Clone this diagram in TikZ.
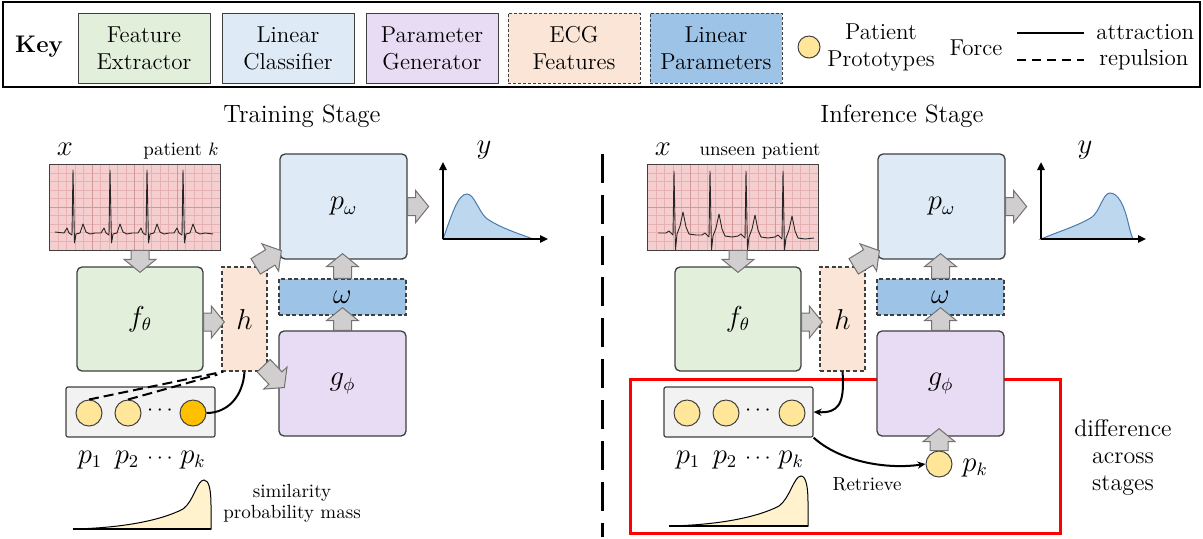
\documentclass[tikz,border=0pt]{standalone}
\usepackage{xcolor}
\usepackage{tikz}
\usetikzlibrary{arrows.meta,calc,positioning}
\definecolor{feCol}{HTML}{E2EFDA}
\definecolor{lcCol}{HTML}{DEEBF7}
\definecolor{pgCol}{HTML}{E7DCF3}
\definecolor{ecgCol}{HTML}{FBE5D6}
\definecolor{lpCol}{HTML}{9DC3E6}
\definecolor{boxEdge}{HTML}{3F3F3F}
\definecolor{protoCol}{HTML}{FFE699}
\definecolor{protoHot}{HTML}{FFC000}
\definecolor{poolCol}{HTML}{F2F2F2}
\definecolor{arrCol}{HTML}{D0CECE}
\definecolor{arrEdge}{HTML}{767171}
\definecolor{distCol}{HTML}{BDD7EE}
\definecolor{distEdge}{HTML}{4A7AB0}
\definecolor{simCol}{HTML}{FFF2CC}
\definecolor{paperCol}{HTML}{F5CFCF}
\definecolor{gridMinor}{HTML}{E9B2B2}
\definecolor{gridMajor}{HTML}{D39797}
\definecolor{diffEdge}{HTML}{FF0000}
\newcommand{\keyfont}{\fontsize{11.5}{13.5}\selectfont}
\newcommand{\mathsz}{\fontsize{13.5}{15}\selectfont}
\newcommand{\smallsz}{\fontsize{9.5}{10.5}\selectfont}
% pink ECG paper: minor grid every 8.5 units, major every 5 cells
\newcommand{\ecggrid}[1]{%
  \foreach \i in {1,...,19}
    \draw[gridline] ($(#1.north west)+(\i*8.5,0)$) -- ($(#1.south west)+(\i*8.5,0)$);
  \foreach \j in {1,...,9}
    \draw[gridline] ($(#1.north west)+(0,\j*8.5)$) -- ($(#1.north east)+(0,\j*8.5)$);
  \foreach \i in {5,10,15}
    \draw[gridmajor] ($(#1.north west)+(\i*8.5,0)$) -- ($(#1.south west)+(\i*8.5,0)$);
  \draw[gridmajor] ($(#1.north west)+(0,42.5)$) -- ($(#1.north east)+(0,42.5)$);
  \draw[boxEdge, line width=0.6pt] (#1.north west) rectangle (#1.south east);
}
\tikzset{
  keyframe/.style={draw=black, line width=1pt, minimum width=598.5pt, minimum height=42.5pt},
  keybox/.style={draw=boxEdge, fill=#1, line width=0.5pt, minimum width=66pt, minimum height=35pt,
        inner sep=0pt, align=center, font=\keyfont},
  keydash/.style={dash pattern=on 1.5pt off 1pt},
  txt/.style={inner sep=0pt, font=\keyfont},
  title/.style={inner sep=0pt, font=\fontsize{12.5}{14}\selectfont},
  mlbl/.style={inner sep=0pt, font=\mathsz},
  dotlbl/.style={inner sep=0pt, font=\fontsize{11}{12}\selectfont},
  slbl/.style={inner sep=0pt, font=\smallsz, align=center},
  blk/.style={draw=boxEdge, fill=#1, line width=0.65pt, rounded corners=2.5pt, inner sep=0pt, font=\mathsz},
  blkdash/.style={draw=boxEdge, fill=#1, line width=0.65pt, dash pattern=on 2pt off 1.3pt,
        inner sep=0pt, font=\mathsz},
  paper/.style={fill=paperCol, minimum width=85pt, minimum height=42.5pt, inner sep=0pt},
  gridline/.style={gridMinor, line width=0.2pt},
  gridmajor/.style={gridMajor, line width=0.35pt},
  trace/.style={black!85, line width=0.45pt, line join=round},
  pool/.style={draw=boxEdge, fill=poolCol, line width=0.6pt, rounded corners=1pt,
        minimum width=74.5pt, minimum height=25pt},
  proto/.style={circle, draw=boxEdge, fill=protoCol, line width=0.5pt, minimum size=13pt, inner sep=0pt},
  attract/.style={line width=1.2pt},
  repulse/.style={line width=1.2pt, dash pattern=on 4.5pt off 3pt},
  pull/.style={line width=1pt},
  push/.style={line width=1pt, dash pattern=on 5pt off 2.5pt},
  link/.style={line width=1pt, -{Stealth[length=4pt,width=3.6pt]}},
  axis/.style={line width=1pt, -{Triangle[length=4pt,width=3.6pt]}},
  dist/.style={draw=distEdge, fill=distCol, line width=0.5pt},
  sim/.style={draw=black, fill=simCol, line width=0.5pt},
  stagesplit/.style={line width=1.5pt, dash pattern=on 14.5pt off 6pt},
  diffbox/.style={draw=diffEdge, line width=1.5pt, minimum width=215pt, minimum height=77pt},
  % fat grey block arrow drawn along a straight connector
  fat/.style={draw=arrEdge, fill=arrCol, line width=0.5pt, line join=miter,
    to path={let \p1=(\tikztostart), \p2=(\tikztotarget),
      \n1={atan2(\y2-\y1,\x2-\x1)}, \n2={veclen(\x2-\x1,\y2-\y1)} in
      ([shift={(\p1)},rotate=\n1]0pt,-4.5pt)
      -- ([shift={(\p1)},rotate=\n1]\n2-6.5pt,-4.5pt)
      -- ([shift={(\p1)},rotate=\n1]\n2-6.5pt,-8pt)
      -- ([shift={(\p1)},rotate=\n1]\n2+0pt,0pt)
      -- ([shift={(\p1)},rotate=\n1]\n2-6.5pt,8pt)
      -- ([shift={(\p1)},rotate=\n1]\n2-6.5pt,4.5pt)
      -- ([shift={(\p1)},rotate=\n1]0pt,4.5pt) -- cycle}},
}

\begin{document}
\begin{tikzpicture}[x=0.5pt, y=-0.5pt]
\useasboundingbox (0,0) rectangle (1203,538);

% ---------- key ----------
\node[keyframe] (keyFrame) at (601.5,44.5) {};
\node[txt, font=\fontsize{12}{14}\selectfont\bfseries] (keyTitle) at (39,47) {Key};
\node[keybox=feCol] (keyFE) at (144,48) {Feature\\Extractor};
\node[keybox=lcCol, right=5.5pt of keyFE] (keyLC) {Linear\\Classifier};
\node[keybox=pgCol, right=5.5pt of keyLC] (keyPG) {Parameter\\Generator};
\node[keybox=ecgCol, keydash, right=4.5pt of keyPG] (keyECG) {ECG\\Features};
\node[keybox=lpCol, keydash, right=4.5pt of keyECG] (keyLP) {Linear\\Parameters};
\node[proto, minimum size=11pt] (keyProto) at (809,47) {};
\node[txt, align=center] (keyProtoTxt) at (881,47) {Patient\\Prototypes};
\node[txt] (keyForce) at (976,48) {Force};
\coordinate (attrA) at (1017,33); \coordinate (attrB) at (1084,33);
\coordinate (repA) at (1017,60);  \coordinate (repB) at (1084,60);
\draw[attract] (attrA) -- (attrB);
\draw[repulse] (repA) -- (repB);
\node[txt, anchor=base west] (keyAttr) at (1096,39) {attraction};
\node[txt, anchor=base west] (keyRep) at (1099,65) {repulsion};

% ---------- stage titles + split ----------
\node[title, anchor=base] (trainTitle) at (302,122) {Training Stage};
\node[title, anchor=base] (inferTitle) at (902,122) {Inference Stage};
\coordinate (splitTop) at (602,154); \coordinate (splitBot) at (602,537);
\draw[stagesplit] (splitTop) -- (splitBot);

% ---------- training stage ----------
\node[paper] (ecgT) at (135,207.5) {};
\ecggrid{ecgT}
\draw[trace] (55,232) \foreach \s in {73,110,147,183} {
    -- (\s-9,233) -- (\s-6,228) -- (\s-4,233) -- (\s-1,235) -- (\s,170) -- (\s+1.5,243)
    -- (\s+3,234) -- (\s+7,233) -- (\s+10,224) -- (\s+13,232) -- (\s+17,234) -- (\s+22,233) } -- (213,234);
\node[mlbl, anchor=base] (xT) at (65,155) {$x$};
\node[slbl, anchor=base] (patT) at (181,155) {patient $k$};

\node[blk=feCol, minimum width=63pt, minimum height=52pt] (fT) at (140,319) {$f_\theta$};
\node[blkdash=ecgCol, minimum width=22.5pt, minimum height=52pt] (hT) at (244.5,319) {$h$};
\node[blk=lcCol, minimum width=63.5pt, minimum height=52.5pt] (pwT) at (343.5,206.5) {$p_\omega$};
\node[blkdash=lpCol, minimum width=63.5pt, minimum height=18pt] (wT) at (342.5,297) {$\omega$};
\node[blk=pgCol, minimum width=63.5pt, minimum height=52.5pt] (gT) at (342.5,383.5) {$g_\phi$};

\node[pool] (poolT) at (140.5,412) {};
\node[proto] (p1T) at (89,413) {};
\node[proto] (p2T) at (128,413) {};
\node[proto, fill=protoHot] (pkT) at (193,413) {};
\node[dotlbl] (dotsT) at (160,411) {$\cdots$};
\node[mlbl, anchor=base] (p1Tl) at ($(p1T)+(1,50)$) {$p_1$};
\node[mlbl, anchor=base] (p2Tl) at ($(p2T)+(-1,50)$) {$p_2$};
\node[dotlbl, anchor=base] (dotsTl) at ($(dotsT)+(0,52)$) {$\cdots$};
\node[mlbl, anchor=base] (pkTl) at ($(pkT)+(0,50)$) {$p_k$};
\draw[push] (p1T.north) -- ($(hT.south west)+(2,0)$);
\draw[push] (p2T.north) -- ($(hT.south west)+(-4,3)$);
\draw[pull] (pkT.east) .. controls (228,413) and (243,396) .. (hT.south);

\draw[fat] (ecgT.south -| fT.north) to ($(fT.north)+(0,6)$);
\draw[fat] ($(fT.east)+(0,3)$) to ($(hT.west)+(3,3)$);
\draw[fat] ($(hT.north east)+(-12,0)$) to ($(pwT.south west)+(2,-9)$);
\draw[fat] ($(hT.south east)+(-4,-6)$) to ($(gT.west)+(6,4)$);
\draw[fat] (wT.north) to ($(wT.north |- pwT.south)+(0,-6)$);
\draw[fat] (gT.north) to ($(wT.south)+(0,-8)$);
\draw[fat] (pwT.east) to ($(pwT.east)+(21,0)$);

% output distribution
\coordinate (oT) at (443,239); \coordinate (oTy) at (443,162); \coordinate (oTx) at (548,239);
\draw[dist] (oT) .. controls (452,214) and (458,194) .. (467,194)
  .. controls (474,194) and (478,210) .. (486,218)
  .. controls (500,228) and (520,234) .. (533,239) -- cycle;
\draw[axis] (oT) -- (oTy);
\draw[axis] (oT) -- (oTx);
\node[mlbl, anchor=base] (yT) at (484,153) {$y$};

% similarity mass over prototypes
\draw[sim] (73,529) .. controls (120,528) and (160,521) .. (183,509)
  .. controls (194,501) and (197,480) .. (204,480)
  .. controls (209,480) and (211,490) .. (211,505) -- (211,529) -- cycle;
\draw[line width=1pt] (73,529) -- (211,529);
\node[slbl] (simT) at (292,503.5) {similarity\\probability mass};

% ---------- inference stage ----------
\begin{scope}[shift={(598,0)}]
\node[diffbox] (diffI) at (247,456) {};
\node[paper] (ecgI) at (135,207.5) {};
\ecggrid{ecgI}
\draw[trace] (60,233) \foreach \s/\b in {76/233,112/235,148/236,185/237} {
    -- (\s-8,\b) -- (\s-5,\b-2) -- (\s-3,\b) -- (\s-1,\b+2) -- (\s,171) -- (\s+1.5,250)
    -- (\s+3,\b+1) -- (\s+6,\b-7) -- (\s+9,\b-21) -- (\s+12,\b-6) -- (\s+15,\b+1) -- (\s+22,\b+2) } -- (216,238);
\node[mlbl, anchor=base] (xI) at (65,155) {$x$};
\node[slbl, anchor=base] (patI) at (162,155) {unseen patient};

\node[blk=feCol, minimum width=63pt, minimum height=52pt] (fI) at (140,319) {$f_\theta$};
\node[blkdash=ecgCol, minimum width=22.5pt, minimum height=52pt] (hI) at (244.5,319) {$h$};
\node[blk=lcCol, minimum width=63.5pt, minimum height=52.5pt] (pwI) at (343.5,206.5) {$p_\omega$};
\node[blkdash=lpCol, minimum width=63.5pt, minimum height=18pt] (wI) at (342.5,297) {$\omega$};
\node[blk=pgCol, minimum width=63.5pt, minimum height=52.5pt] (gI) at (342.5,383.5) {$g_\phi$};

\node[pool] (poolI) at (140.5,412) {};
\node[proto] (p1I) at (89,413) {};
\node[proto] (p2I) at (128,413) {};
\node[proto] (pkI) at (194,413) {};
\node[dotlbl] (dotsI) at (160,411) {$\cdots$};
\node[mlbl, anchor=base] (p1Il) at ($(p1I)+(1,50)$) {$p_1$};
\node[mlbl, anchor=base] (p2Il) at ($(p2I)+(-1,50)$) {$p_2$};
\node[dotlbl, anchor=base] (dotsIl) at ($(dotsI)+(0,52)$) {$\cdots$};
\node[mlbl, anchor=base] (pkIl) at ($(pkI)+(-1,50)$) {$p_k$};

\node[proto] (pickI) at (341,464) {};
\node[mlbl, anchor=base] (pickIl) at (377,471) {$p_k$};
\node[slbl] (retrI) at (269,484) {Retrieve};
\draw[link] (hI.south) .. controls (247,405) and (240,413) .. (poolI.east);
\draw[link] (poolI.south east) .. controls (240,460) and (285,470) .. (pickI.west);

\draw[fat] (ecgI.south -| fI.north) to ($(fI.north)+(0,6)$);
\draw[fat] ($(fI.east)+(0,3)$) to ($(hI.west)+(3,3)$);
\draw[fat] ($(hI.north east)+(-12,0)$) to ($(pwI.south west)+(2,-9)$);
\draw[fat] (wI.north) to ($(wI.north |- pwI.south)+(0,-6)$);
\draw[fat] (gI.north) to ($(wI.south)+(0,-8)$);
\draw[fat] (pwI.east) to ($(pwI.east)+(21,0)$);
\draw[fat] (pickI.north) to ($(pickI.north |- gI.south)+(0,-8)$);

\coordinate (oI) at (443,239); \coordinate (oIy) at (443,162); \coordinate (oIx) at (548,239);
\draw[dist] (oI) .. controls (462,231) and (482,225) .. (494,217)
  .. controls (502,211) and (505,193) .. (512,193)
  .. controls (520,193) and (526,205) .. (530,222)
  .. controls (532,230) and (533,235) .. (535,239) -- cycle;
\draw[axis] (oI) -- (oIy);
\draw[axis] (oI) -- (oIx);
\node[mlbl, anchor=base] (yI) at (487,153) {$y$};

\draw[sim] (71,526) .. controls (118,525) and (158,518) .. (181,506)
  .. controls (192,498) and (196,476) .. (203,476)
  .. controls (208,476) and (210,487) .. (210,502) -- (210,526) -- cycle;
\draw[line width=1pt] (71,526) -- (210,526);

\node[txt, align=center, font=\fontsize{12}{13.5}\selectfont] (diffTxt) at (525,457) {difference\\across\\stages};
\end{scope}
\end{tikzpicture}
\end{document}
